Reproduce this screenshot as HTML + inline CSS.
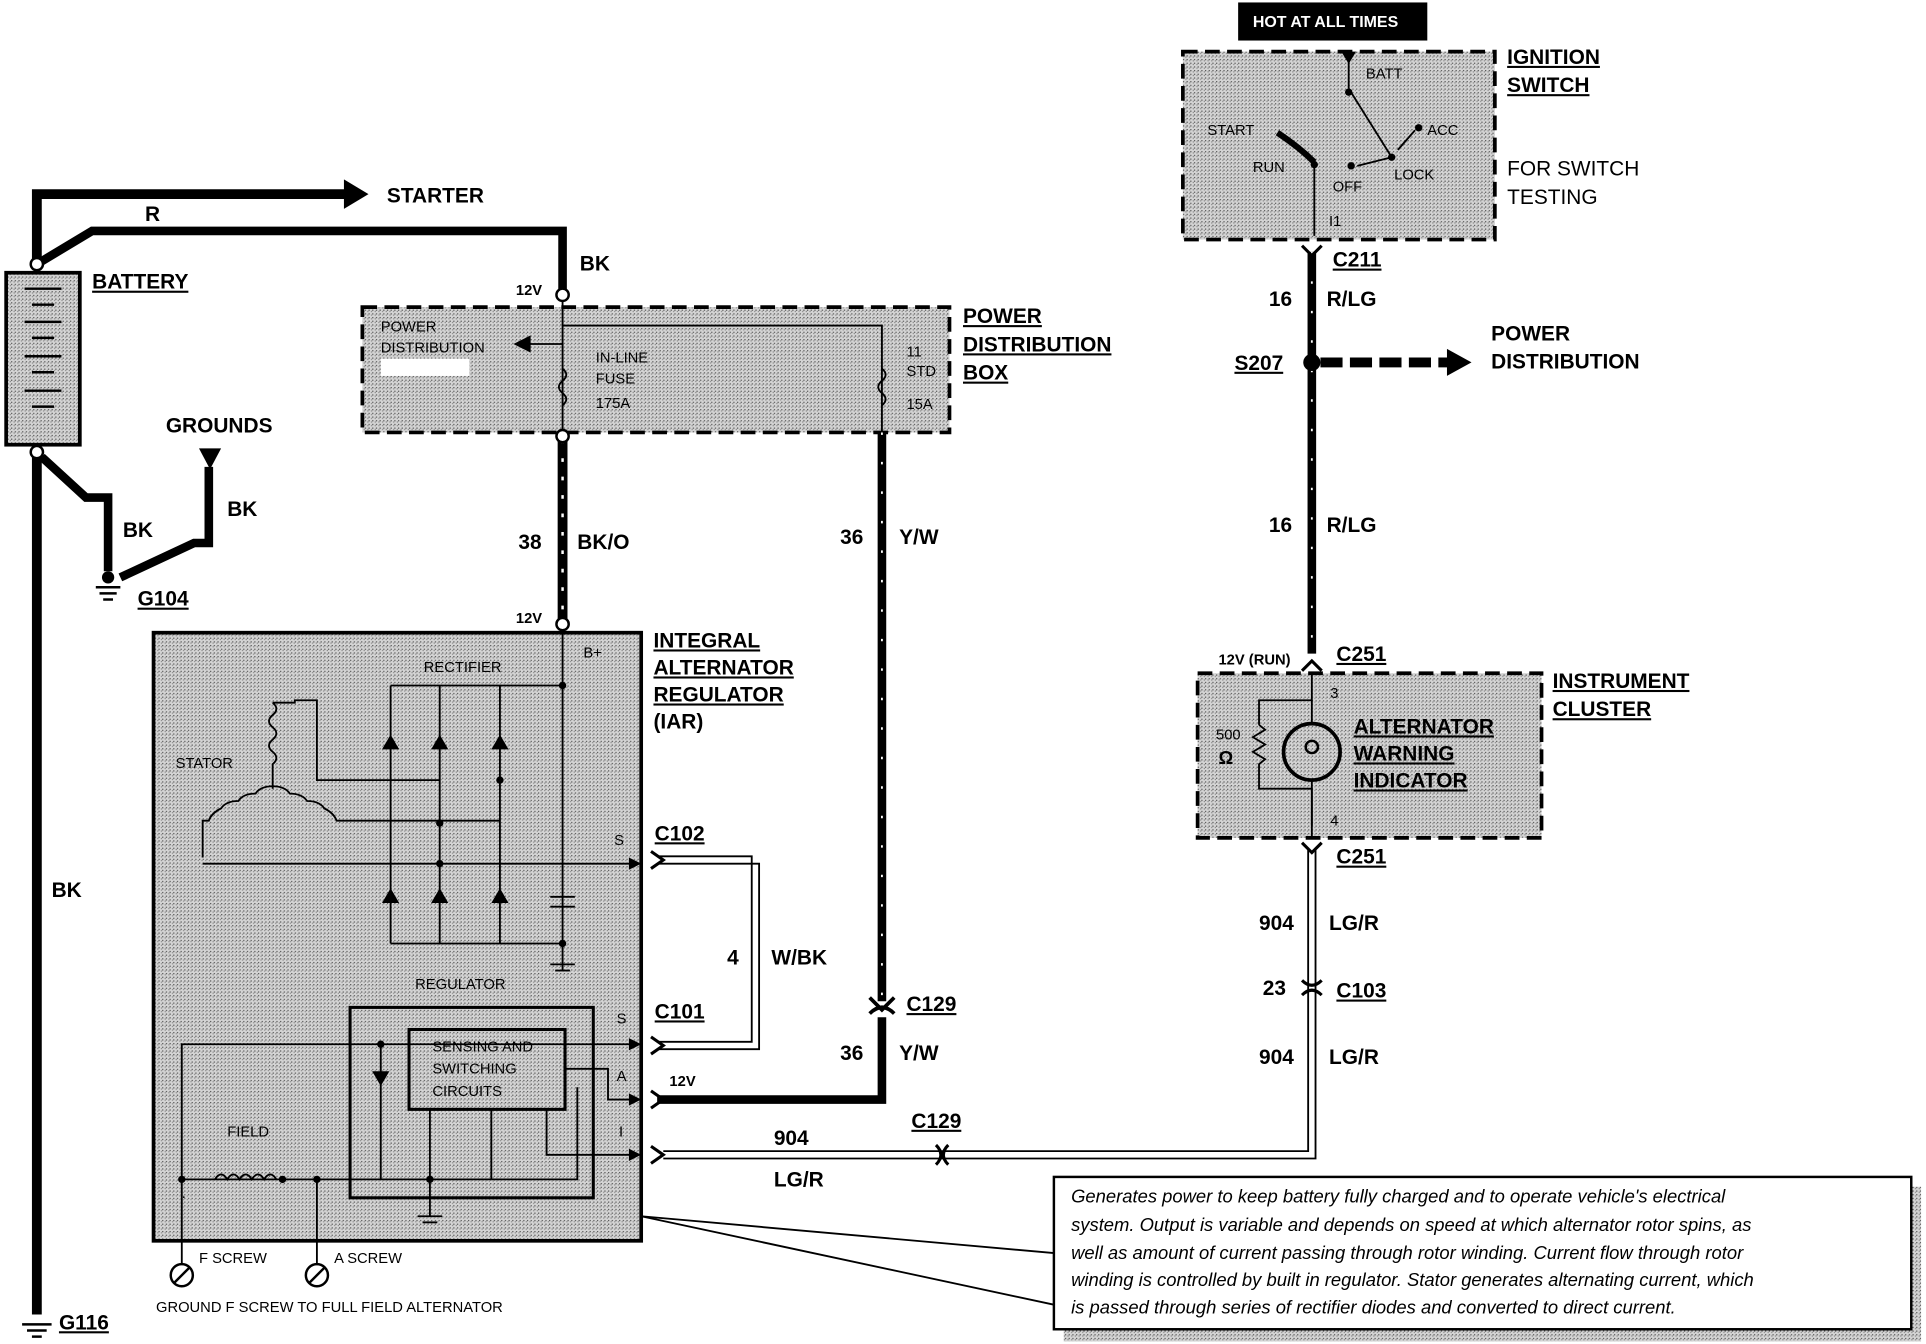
<!DOCTYPE html>
<html><head><meta charset="utf-8"><style>
html,body{margin:0;padding:0;background:#fff;}
svg{display:block;}
text{font-family:"Liberation Sans",Arial,sans-serif;font-weight:bold;fill:#000;}
.s{font-size:12px;font-weight:normal;}
.l{font-size:17px;}
</style></head><body>
<svg width="1926" height="1344" viewBox="0 0 1568 1094" preserveAspectRatio="none" xmlns="http://www.w3.org/2000/svg">
<defs>
<pattern id="st" width="3" height="3" patternUnits="userSpaceOnUse">
<rect width="3" height="3" fill="#d4d4d4"/><rect width="1" height="1" fill="#555"/><rect x="2" y="1" width="1" height="1" fill="#888"/>
</pattern>
</defs>
<!-- HOT AT ALL TIMES -->
<rect x="1008" y="2" width="154" height="31" fill="#000"/>
<text x="1020" y="22" style="font-size:13px;fill:#fff">HOT AT ALL TIMES</text>

<!-- Battery -->
<rect x="5" y="222" width="60" height="140" fill="url(#st)" stroke="#000" stroke-width="3"/>
<g stroke="#000" stroke-width="2">
<line x1="20" y1="235" x2="50" y2="235"/><line x1="26" y1="248" x2="44" y2="248"/>
<line x1="20" y1="262" x2="50" y2="262"/><line x1="26" y1="275" x2="44" y2="275"/>
<line x1="20" y1="290" x2="50" y2="290"/><line x1="26" y1="303" x2="44" y2="303"/>
<line x1="20" y1="318" x2="50" y2="318"/><line x1="26" y1="331" x2="44" y2="331"/>
</g>
<text x="75" y="235" class="l" text-decoration="underline">BATTERY</text>
<!-- starter & R wires -->
<polyline points="30,215 30,158 285,158" fill="none" stroke="#000" stroke-width="8"/>
<polygon points="280,146 300,158 280,170" fill="#000"/>
<text x="315" y="165" class="l">STARTER</text>
<polyline points="30,215 75,188 458,188 458,238" fill="none" stroke="#000" stroke-width="7"/>
<text x="118" y="180" class="l">R</text>
<text x="472" y="220" class="l">BK</text>
<circle cx="30" cy="215" r="5" fill="#fff" stroke="#000" stroke-width="2"/>
<circle cx="458" cy="240" r="5" fill="#fff" stroke="#000" stroke-width="2"/>
<text x="420" y="240" class="s" style="font-weight:bold">12V</text>
<!-- battery ground -->
<line x1="30" y1="368" x2="30" y2="1070" stroke="#000" stroke-width="8"/>
<circle cx="30" cy="368" r="5" fill="#fff" stroke="#000" stroke-width="2"/>
<text x="42" y="730" class="l">BK</text>
<polyline points="34,372 70,405 88,405 88,465" fill="none" stroke="#000" stroke-width="7"/>
<polyline points="98,470 158,442 170,442 170,380" fill="none" stroke="#000" stroke-width="7"/>
<polygon points="162,365 180,365 171,382" fill="#000"/>
<text x="135" y="352" class="l">GROUNDS</text>
<text x="185" y="420" class="l">BK</text>
<text x="100" y="437" class="l">BK</text>
<g stroke="#000" stroke-width="2"><line x1="78" y1="478" x2="98" y2="478"/><line x1="81" y1="483" x2="95" y2="483"/><line x1="84" y1="488" x2="92" y2="488"/></g>
<circle cx="88" cy="470" r="5" fill="#000"/>
<text x="112" y="493" class="l" text-decoration="underline">G104</text>
<g stroke="#000" stroke-width="2"><line x1="18" y1="1078" x2="42" y2="1078"/><line x1="22" y1="1083" x2="38" y2="1083"/><line x1="26" y1="1088" x2="34" y2="1088"/></g>
<text x="48" y="1082" class="l" text-decoration="underline">G116</text>

<!-- Power distribution box -->
<rect x="295" y="250" width="478" height="102" fill="url(#st)" stroke="#000" stroke-width="3" stroke-dasharray="12,6"/>
<rect x="310" y="292" width="72" height="14" fill="#fff"/>
<text x="310" y="270" class="s">POWER</text>
<text x="310" y="287" class="s">DISTRIBUTION</text>
<polyline points="718,352 718,265 458,265" fill="none" stroke="#000" stroke-width="1.5"/>
<line x1="458" y1="245" x2="458" y2="352" stroke="#000" stroke-width="1.5"/>
<line x1="458" y1="280" x2="425" y2="280" stroke="#000" stroke-width="1.5"/>
<polygon points="418,280 432,273 432,287" fill="#000"/>
<text x="485" y="295" class="s">IN-LINE</text><text x="485" y="312" class="s">FUSE</text><text x="485" y="332" class="s">175A</text>
<text x="738" y="290" class="s">11</text><text x="738" y="306" class="s">STD</text><text x="738" y="333" class="s">15A</text>
<path d="M458 300 q6 5 0 10 q-6 5 0 10 q6 5 0 10" fill="none" stroke="#000" stroke-width="1.5"/>
<path d="M718 300 q6 5 0 10 q-6 5 0 10 q6 5 0 10" fill="none" stroke="#000" stroke-width="1.5"/>
<text x="784" y="263" class="l" text-decoration="underline">POWER</text>
<text x="784" y="286" class="l" text-decoration="underline">DISTRIBUTION</text>
<text x="784" y="309" class="l" text-decoration="underline">BOX</text>

<!-- BK/O wire -->
<line x1="458" y1="358" x2="458" y2="505" stroke="#000" stroke-width="8"/>
<line x1="458" y1="358" x2="458" y2="505" stroke="#fff" stroke-width="2" stroke-dasharray="3,12"/>
<circle cx="458" cy="355" r="5" fill="#fff" stroke="#000" stroke-width="2"/>
<circle cx="458" cy="508" r="5" fill="#fff" stroke="#000" stroke-width="2"/>
<text x="422" y="447" class="l">38</text><text x="470" y="447" class="l">BK/O</text>
<text x="420" y="507" class="s" style="font-weight:bold">12V</text>
<!-- Y/W wire -->
<line x1="718" y1="352" x2="718" y2="815" stroke="#000" stroke-width="7"/>
<line x1="718" y1="352" x2="718" y2="815" stroke="#fff" stroke-width="1.5" stroke-dasharray="2,22"/>
<text x="684" y="443" class="l">36</text><text x="732" y="443" class="l">Y/W</text>
<path d="M708 812 L718 822 L728 812 M708 825 Q718 815 728 825" fill="none" stroke="#000" stroke-width="3"/>
<text x="738" y="823" class="l" text-decoration="underline">C129</text>
<polyline points="718,828 718,895 535,895" fill="none" stroke="#000" stroke-width="7"/>
<text x="684" y="863" class="l">36</text><text x="732" y="863" class="l">Y/W</text>
<text x="545" y="884" class="s" style="font-weight:bold">12V</text>

<!-- IAR -->
<rect x="125" y="515" width="397" height="495" fill="url(#st)" stroke="#000" stroke-width="3"/>
<text x="475" y="535" class="s">B+</text>
<text x="345" y="547" class="s">RECTIFIER</text>
<text x="143" y="625" class="s">STATOR</text>
<text x="338" y="805" class="s">REGULATOR</text>
<text x="185" y="925" class="s">FIELD</text>
<g fill="none" stroke="#000" stroke-width="1.5">
<line x1="458" y1="512" x2="458" y2="790"/>
<polyline points="318,558 458,558"/>
<line x1="318" y1="558" x2="318" y2="768"/><line x1="358" y1="558" x2="358" y2="768"/><line x1="407" y1="558" x2="407" y2="768"/>
<line x1="318" y1="768" x2="458" y2="768"/>
<polyline points="222,572 240,572 240,570 258,570 258,635 358,635"/>
<path d="M222 572 q6 5 0 10 q-6 5 0 10 q6 5 0 10 q-6 5 0 10 q6 5 0 10 l0 20"/>
<path d="M222 640 q-10 0 -14 6 q-10 0 -14 6 q-10 0 -14 6 q-8 4 -10 10 l-5 0 l0 30"/>
<path d="M222 640 q10 0 14 6 q10 0 14 6 q10 0 14 6 q8 4 10 10 l0 0 l133 0"/>
<line x1="165" y1="703" x2="518" y2="703"/>
<line x1="448" y1="730" x2="468" y2="730"/><line x1="448" y1="738" x2="468" y2="738"/>
<rect x="285" y="820" width="198" height="155" stroke-width="2.5"/>
<rect x="333" y="838" width="127" height="65" stroke-width="2.5"/>
<polyline points="148,960 148,850 460,850"/>
<line x1="310" y1="850" x2="310" y2="960"/>
<line x1="148" y1="960" x2="400" y2="960"/>
<line x1="400" y1="903" x2="400" y2="960"/>
<line x1="350" y1="903" x2="350" y2="990"/>
<polyline points="460,850 518,850"/>
<polyline points="460,870 495,870 495,895 518,895"/>
<polyline points="445,903 445,940 518,940"/>
<polyline points="470,885 470,960 400,960"/>
<line x1="148" y1="960" x2="148" y2="1030"/><line x1="258" y1="960" x2="258" y2="1030"/>
<path d="M175 960 q5 -8 10 0 q5 -8 10 0 q5 -8 10 0 q5 -8 10 0 q5 -8 10 0"/>
<line x1="340" y1="990" x2="360" y2="990"/><line x1="344" y1="995" x2="356" y2="995"/>
<line x1="448" y1="785" x2="468" y2="785"/><line x1="452" y1="790" x2="464" y2="790"/>
</g>
<g fill="#000">
<polygon points="311,610 325,610 318,598"/><polygon points="351,610 365,610 358,598"/><polygon points="400,610 414,610 407,598"/>
<polygon points="311,735 325,735 318,723"/><polygon points="351,735 365,735 358,723"/><polygon points="400,735 414,735 407,723"/>
<polygon points="303,872 317,872 310,884"/>
<polygon points="512,698 522,703 512,708"/><polygon points="512,845 522,850 512,855"/>
<polygon points="512,890 522,895 512,900"/><polygon points="512,935 522,940 512,945"/>
<circle cx="358" cy="670" r="3"/><circle cx="358" cy="703" r="3"/><circle cx="407" cy="635" r="3"/><circle cx="458" cy="558" r="3"/>
<circle cx="458" cy="768" r="3"/><circle cx="310" cy="850" r="3"/><circle cx="148" cy="960" r="3"/><circle cx="258" cy="960" r="3"/><circle cx="230" cy="960" r="3"/><circle cx="350" cy="960" r="3"/>
</g>
<text x="500" y="688" class="s">S</text><text x="502" y="833" class="s">S</text><text x="502" y="880" class="s">A</text><text x="504" y="925" class="s">I</text>
<text x="148" y="975" class="s">.</text>
<circle cx="148" cy="1038" r="9" fill="#fff" stroke="#000" stroke-width="2"/><line x1="142" y1="1044" x2="154" y2="1032" stroke="#000" stroke-width="2"/>
<circle cx="258" cy="1038" r="9" fill="#fff" stroke="#000" stroke-width="2"/><line x1="252" y1="1044" x2="264" y2="1032" stroke="#000" stroke-width="2"/>
<text x="162" y="1028" class="s">F SCREW</text><text x="272" y="1028" class="s">A SCREW</text>
<text x="127" y="1068" class="s">GROUND F SCREW TO FULL FIELD ALTERNATOR</text>
<text x="352" y="856" class="s">SENSING AND</text><text x="352" y="874" class="s">SWITCHING</text><text x="352" y="892" class="s">CIRCUITS</text>
<text x="532" y="527" class="l" text-decoration="underline">INTEGRAL</text>
<text x="532" y="549" class="l" text-decoration="underline">ALTERNATOR</text>
<text x="532" y="571" class="l" text-decoration="underline">REGULATOR</text>
<text x="532" y="593" class="l">(IAR)</text>

<!-- W/BK -->
<g fill="none" stroke="#000" stroke-width="1.5">
<polyline points="535,697 612,697 612,848 535,848"/><polyline points="535,703 618,703 618,854 535,854"/>
</g>
<path d="M530 693 L540 700 L530 707 M530 844 L540 851 L530 858" fill="none" stroke="#000" stroke-width="2.5"/>
<text x="533" y="684" class="l" text-decoration="underline">C102</text>
<text x="533" y="829" class="l" text-decoration="underline">C101</text>
<text x="592" y="785" class="l">4</text><text x="628" y="785" class="l">W/BK</text>
<path d="M530 888 L540 895 L530 902 M530 933 L540 940 L530 947" fill="none" stroke="#000" stroke-width="2.5"/>

<!-- 904 LG/R bottom -->
<g fill="none" stroke="#000" stroke-width="1.5">
<polyline points="540,937 1065,937 1065,690"/><polyline points="540,943 1071,943 1071,690"/>
</g>
<path d="M762 932 q8 8 0 16 M772 932 q-8 8 0 16" fill="none" stroke="#000" stroke-width="2.5"/>
<text x="630" y="932" class="l">904</text><text x="630" y="966" class="l">LG/R</text>
<text x="742" y="918" class="l" text-decoration="underline">C129</text>
<path d="M1060 798 q8 8 16 0 M1060 810 q8 -8 16 0" fill="none" stroke="#000" stroke-width="2.5"/>
<text x="1025" y="757" class="l">904</text><text x="1082" y="757" class="l">LG/R</text>
<text x="1028" y="810" class="l">23</text><text x="1088" y="812" class="l" text-decoration="underline">C103</text>
<text x="1025" y="866" class="l">904</text><text x="1082" y="866" class="l">LG/R</text>
<path d="M1060 686 L1068 694 L1076 686" fill="none" stroke="#000" stroke-width="2.5"/>
<text x="1088" y="703" class="l" text-decoration="underline">C251</text>

<!-- Instrument cluster -->
<rect x="975" y="548" width="280" height="134" fill="url(#st)" stroke="#000" stroke-width="3" stroke-dasharray="12,6"/>
<g fill="none" stroke="#000" stroke-width="1.5">
<polyline points="1068,548 1068,570 1025,570 1025,590"/>
<path d="M1025 590 l5 4 l-10 6 l10 6 l-10 6 l10 6 l-5 4 l0 20 l43 0 l0 30"/>
<line x1="1068" y1="570" x2="1068" y2="590"/><line x1="1068" y1="635" x2="1068" y2="682"/>
</g>
<circle cx="1068" cy="612" r="23" fill="none" stroke="#000" stroke-width="3"/>
<circle cx="1068" cy="608" r="5" fill="none" stroke="#000" stroke-width="2"/>
<text x="990" y="602" class="s">500</text><text x="992" y="622" style="font-size:15px">Ω</text>
<text x="1083" y="568" class="s">3</text><text x="1083" y="672" class="s">4</text>
<text x="1102" y="597" class="l" text-decoration="underline">ALTERNATOR</text>
<text x="1102" y="619" class="l" text-decoration="underline">WARNING</text>
<text x="1102" y="641" class="l" text-decoration="underline">INDICATOR</text>
<text x="1264" y="560" class="l" text-decoration="underline">INSTRUMENT</text>
<text x="1264" y="583" class="l" text-decoration="underline">CLUSTER</text>
<path d="M1060 546 L1068 538 L1076 546" fill="none" stroke="#000" stroke-width="2.5"/>
<text x="992" y="541" class="s" style="font-weight:bold">12V (RUN)</text>
<text x="1088" y="538" class="l" text-decoration="underline">C251</text>

<!-- R/LG -->
<line x1="1068" y1="205" x2="1068" y2="532" stroke="#000" stroke-width="7"/>
<line x1="1068" y1="205" x2="1068" y2="532" stroke="#fff" stroke-width="1.5" stroke-dasharray="2,22"/>
<path d="M1060 200 L1068 208 L1076 200" fill="none" stroke="#000" stroke-width="2.5"/>
<text x="1085" y="217" class="l" text-decoration="underline">C211</text>
<text x="1033" y="249" class="l">16</text><text x="1080" y="249" class="l">R/LG</text>
<text x="1033" y="433" class="l">16</text><text x="1080" y="433" class="l">R/LG</text>
<circle cx="1068" cy="295" r="7" fill="#000"/>
<line x1="1075" y1="295" x2="1180" y2="295" stroke="#000" stroke-width="8" stroke-dasharray="18,6"/>
<polygon points="1178,284 1198,295 1178,306" fill="#000"/>
<text x="1005" y="301" class="l" text-decoration="underline">S207</text>
<text x="1214" y="277" class="l">POWER</text><text x="1214" y="300" class="l">DISTRIBUTION</text>

<!-- Ignition switch -->
<rect x="963" y="42" width="254" height="153" fill="url(#st)" stroke="#000" stroke-width="3" stroke-dasharray="12,6"/>
<g fill="none" stroke="#000" stroke-width="1.5">
<line x1="1098" y1="42" x2="1098" y2="72"/><line x1="1070" y1="135" x2="1070" y2="192"/>
<line x1="1098" y1="72" x2="1133" y2="128"/><line x1="1105" y1="135" x2="1133" y2="128"/>
<line x1="1138" y1="122" x2="1152" y2="106"/>
</g>
<path d="M1040 108 Q1058 120 1070 132" fill="none" stroke="#000" stroke-width="5"/>
<polygon points="1092,42 1104,42 1098,52" fill="#000"/>
<circle cx="1098" cy="75" r="3" fill="#000"/><circle cx="1133" cy="128" r="3" fill="#000"/><circle cx="1155" cy="104" r="3" fill="#000"/><circle cx="1100" cy="135" r="3" fill="#000"/><circle cx="1070" cy="134" r="3" fill="#000"/>
<text x="1112" y="64" class="s">BATT</text><text x="1162" y="110" class="s">ACC</text>
<text x="983" y="110" class="s">START</text><text x="1020" y="140" class="s">RUN</text>
<text x="1085" y="156" class="s">OFF</text><text x="1135" y="146" class="s">LOCK</text><text x="1082" y="184" class="s">I1</text>
<text x="1227" y="52" class="l" text-decoration="underline">IGNITION</text>
<text x="1227" y="75" class="l" text-decoration="underline">SWITCH</text>
<text x="1227" y="143" class="l" style="font-weight:normal">FOR SWITCH</text>
<text x="1227" y="166" class="l" style="font-weight:normal">TESTING</text>

<!-- Note box -->
<rect x="866" y="966" width="698" height="126" fill="url(#st)"/>
<rect x="858" y="958" width="698" height="124" fill="#fff" stroke="#000" stroke-width="2"/>
<line x1="522" y1="990" x2="858" y2="1020" stroke="#000" stroke-width="1.5"/>
<line x1="522" y1="990" x2="858" y2="1062" stroke="#000" stroke-width="1.5"/>
<g style="font-size:15px;font-style:italic;font-weight:normal">
<text x="872" y="979" style="font-weight:normal">Generates power to keep battery fully charged and to operate vehicle's electrical</text>
<text x="872" y="1002" style="font-weight:normal">system.  Output is variable and depends on speed at which alternator rotor spins, as</text>
<text x="872" y="1025" style="font-weight:normal">well as amount of current passing through rotor winding.  Current flow through rotor</text>
<text x="872" y="1047" style="font-weight:normal">winding is controlled by built in regulator.  Stator generates alternating current, which</text>
<text x="872" y="1069" style="font-weight:normal">is passed through series of rectifier diodes and converted to direct current.</text>
</g>
</svg>
</body></html>
